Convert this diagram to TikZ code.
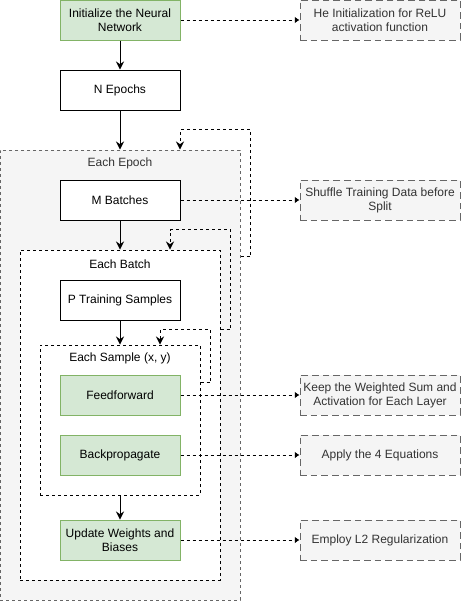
\documentclass[tikz,border=0pt]{standalone}
\usepackage{fontspec}
\setmainfont{Liberation Sans}
\usetikzlibrary{arrows.meta,calc}
\definecolor{gfill}{HTML}{D5E8D4}
\definecolor{gline}{HTML}{82B366}
\definecolor{nfill}{HTML}{F5F5F5}
\definecolor{nline}{HTML}{666666}
\definecolor{ntext}{HTML}{333333}
\tikzset{
  every node/.style={font=\fontsize{9}{10.5}\selectfont, inner sep=0pt, align=center},
  box/.style={draw=black, fill=white, minimum width=90pt, minimum height=30pt, line width=0.75pt},
  greenbox/.style={box, draw=gline, fill=gfill},
  notebox/.style={draw=nline, fill=nfill, text=ntext, minimum width=120pt, minimum height=30pt,
    line width=0.75pt, dash pattern=on 5pt off 3pt},
  container/.style={draw=black, fill=white, line width=0.75pt, dash pattern=on 2.25pt off 2.25pt},
  outercont/.style={draw=nline, fill=nfill, line width=0.75pt, dash pattern=on 2.25pt off 2.25pt},
  flow/.style={draw=black, line width=0.75pt, -{Stealth[length=6pt,width=6pt,inset=2pt]}},
  loopline/.style={draw=black, line width=0.75pt, dash pattern=on 2.25pt off 2.25pt, -{Stealth[length=6pt,width=6pt,inset=2pt]}},
  noteline/.style={draw=black, line width=0.75pt, dash pattern=on 2.25pt off 2.25pt, -{Latex[length=3.5pt,width=5pt]}},
}
\begin{document}
\begin{tikzpicture}[x=0.75pt,y=-0.75pt]
\useasboundingbox (0,0) rectangle (462,601);
% containers
\node[outercont, minimum width=180pt, minimum height=337.5pt] (epoch) at (120,375) {};
\node[text=ntext, anchor=center] (epochlbl) at (120,163) {Each Epoch};
\node[container, minimum width=150pt, minimum height=247.5pt] (batch) at (120,415) {};
\node (batchlbl) at (120,264) {Each Batch};
\node[container, minimum width=120pt, minimum height=112.5pt] (sample) at (120,420) {};
\node (samplelbl) at (120,358) {Each Sample (x, y)};
% main boxes
\node[greenbox] (init) at (120,20) {Initialize the Neural\\Network};
\node[box] (nep) at (120,90) {N Epochs};
\node[box] (mb) at (120,200) {M Batches};
\node[box] (pts) at (120,300) {P Training Samples};
\node[greenbox] (ff) at (120,395) {Feedforward};
\node[greenbox] (bp) at (120,455) {Backpropagate};
\node[greenbox] (uw) at (120,540) {Update Weights and\\Biases};
% notes
\node[notebox] (he) at (380,20) {He Initialization for ReLU\\activation function};
\node[notebox] (sh) at (380,200) {Shuffle Training Data before\\Split};
\node[notebox] (kp) at (380,395) {Keep the Weighted Sum and\\Activation for Each Layer};
\node[notebox] (ap) at (380,455) {Apply the 4 Equations};
\node[notebox] (em) at (380,540) {Employ L2 Regularization};
% flow arrows
\draw[flow] (init.south) -- (nep.north);
\draw[flow] (nep.south) -- (epoch.north);
\draw[flow] (mb.south) -- (batch.north);
\draw[flow] (pts.south) -- (sample.north);
\draw[flow] (sample.south) -- (uw.north);
% loop arrows
\draw[loopline] ($(sample.north east)+(0,38)$) -- ++(10,0) |- ($(sample.north)+(40,-15)$) -- ($(sample.north)+(40,0)$);
\draw[loopline] ($(batch.north east)+(0,80)$) -- ++(10,0) |- ($(batch.north)+(50,-20)$) -- ($(batch.north)+(50,0)$);
\draw[loopline] ($(epoch.north east)+(0,107)$) -- ++(10,0) |- ($(epoch.north)+(60,-20)$) -- ($(epoch.north)+(60,0)$);
% note connectors
\draw[noteline] (init.east) -- (he.west);
\draw[noteline] (mb.east) -- (sh.west);
\draw[noteline] (ff.east) -- (kp.west);
\draw[noteline] (bp.east) -- (ap.west);
\draw[noteline] (uw.east) -- (em.west);
\end{tikzpicture}
\end{document}
